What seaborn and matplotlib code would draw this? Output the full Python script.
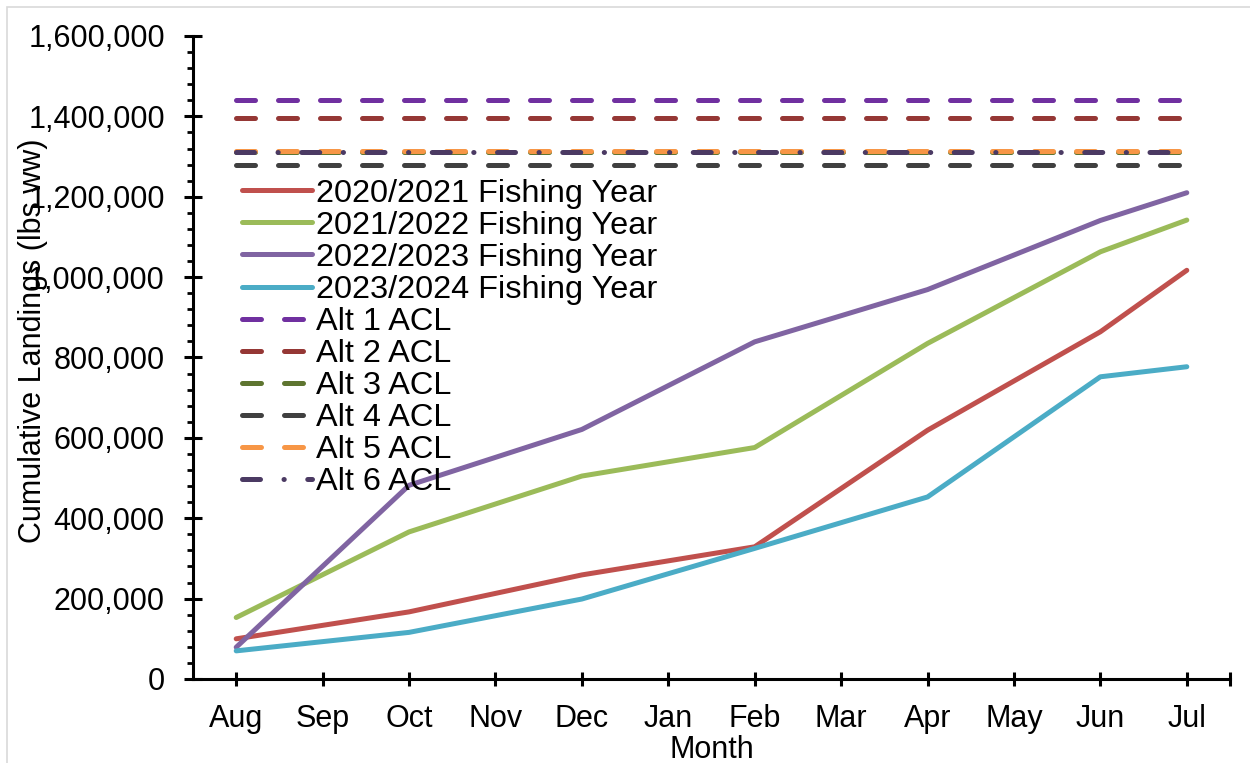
import numpy as np
import pandas as pd
import matplotlib
matplotlib.use("Agg")
import matplotlib.pyplot as plt
from matplotlib.ticker import FuncFormatter, MultipleLocator
from matplotlib.patches import Rectangle
import seaborn as sns

# ---------------- data ----------------
months = ["Aug", "Sep", "Oct", "Nov", "Dec", "Jan", "Feb", "Mar", "Apr", "May", "Jun", "Jul"]
nan = np.nan
fy_2020_2021 = [100000, nan, 167000, nan, 259000, nan, 329000, nan, 619000, nan, 864000, 1017000]
fy_2021_2022 = [153000, nan, 366000, nan, 505000, nan, 576000, nan, 835000, nan, 1063000, 1142000]
fy_2022_2023 = [79000, nan, 482000, nan, 621000, nan, 839000, nan, 969000, nan, 1141000, 1210000]
fy_2023_2024 = [70000, nan, 116000, nan, 199000, nan, 325000, nan, 453000, nan, 752000, 777000]
series_names = ["2020/2021 Fishing Year", "2021/2022 Fishing Year",
                "2022/2023 Fishing Year", "2023/2024 Fishing Year"]
series_values = [fy_2020_2021, fy_2021_2022, fy_2022_2023, fy_2023_2024]

acl_names = ["Alt 1 ACL", "Alt 2 ACL", "Alt 3 ACL", "Alt 4 ACL", "Alt 5 ACL", "Alt 6 ACL"]
acl_values = [1440000, 1397000, 1311000, 1280000, 1314000, 1311000]

y_ticks = [0, 200000, 400000, 600000, 800000, 1000000, 1200000, 1400000, 1600000]

# ---------------- styles ----------------
series_colors = ["#C0504D", "#9BBB59", "#8064A2", "#4BACC6"]
acl_colors = ["#7030A0", "#953735", "#5E7530", "#404040", "#F79646", "#4B3A63"]
dash = (3.8, 4.6)
acl_styles = [(0, dash)] * 5 + [(0, (3.6, 4.7, 0.05, 4.7))]

sns.set_theme(style="white")
plt.rcParams["font.family"] = ["Liberation Sans", "DejaVu Sans"]
plt.rcParams["font.size"] = 22
plt.rcParams["text.color"] = "black"
plt.rcParams["axes.labelcolor"] = "black"
plt.rcParams["xtick.color"] = "black"
plt.rcParams["ytick.color"] = "black"

fig = plt.figure(figsize=(12.5, 7.63), dpi=100)
ax = fig.add_axes([193 / 1250, 1 - 679 / 763, (1230 - 193) / 1250, (679 - 36) / 763])

LW = 3.6
x_idx = np.arange(len(months))
for name, vals, col in zip(series_names, series_values, series_colors):
    df = pd.DataFrame({"m": x_idx, "v": vals})
    sns.lineplot(data=df, x="m", y="v", ax=ax, color=col, lw=LW, label=name,
                 solid_capstyle="round", estimator=None, sort=False)

for name, val, col, ls in zip(acl_names, acl_values, acl_colors, acl_styles):
    df = pd.DataFrame({"m": x_idx, "v": [val] * len(months)})
    sns.lineplot(data=df, x="m", y="v", ax=ax, color=col, lw=LW, label=name,
                 linestyle=ls, dash_capstyle="round", solid_capstyle="round",
                 estimator=None, sort=False)

ax.set_xlim(-0.5, 11.5)
ax.set_ylim(0, 1600000)

ax.set_xticks(list(x_idx) + [11.5])
ax.set_xticklabels(months + [""])
ax.set_yticks(y_ticks)
ax.yaxis.set_major_formatter(FuncFormatter(lambda v, p: f"{v:,.0f}"))
ax.yaxis.set_minor_locator(MultipleLocator(40000))

for s in ["top", "right"]:
    ax.spines[s].set_visible(False)
for s in ["left", "bottom"]:
    ax.spines[s].set_linewidth(2.2)
    ax.spines[s].set_color("black")

ax.tick_params(axis="y", which="major", direction="inout", length=13, width=2.2,
               pad=13.8, labelsize=22, colors="black", left=True)
ax.tick_params(axis="y", which="minor", direction="out", length=4.5, width=2.0,
               colors="black", left=True)
ax.tick_params(axis="x", which="major", direction="inout", length=10, width=2.2,
               pad=13, labelsize=22, colors="black", bottom=True)

ax.set_xlabel("Month", fontsize=22, color="black")
ax.set_ylabel("Cumulative Landings (lbs ww)", fontsize=22, color="black")
ax.xaxis.set_label_coords(0.5, -0.0868)
ax.yaxis.set_label_coords(-0.1395, 0.5254)

leg = ax.legend(loc="upper left", bbox_to_anchor=(0.047, 0.778), frameon=False,
                fontsize=23.4, handlelength=2.15, handletextpad=0.12,
                labelspacing=0.063, borderpad=0, borderaxespad=0)
for t in leg.get_texts():
    t.set_color("black")

fig.patches.append(Rectangle((7 / 1250, -0.1), 1.2, 1 - 7 / 763 + 0.1,
                             transform=fig.transFigure, fill=False,
                             edgecolor="#D9D9D9", lw=1.2, zorder=0))

fig.savefig("out.png", dpi=100)
